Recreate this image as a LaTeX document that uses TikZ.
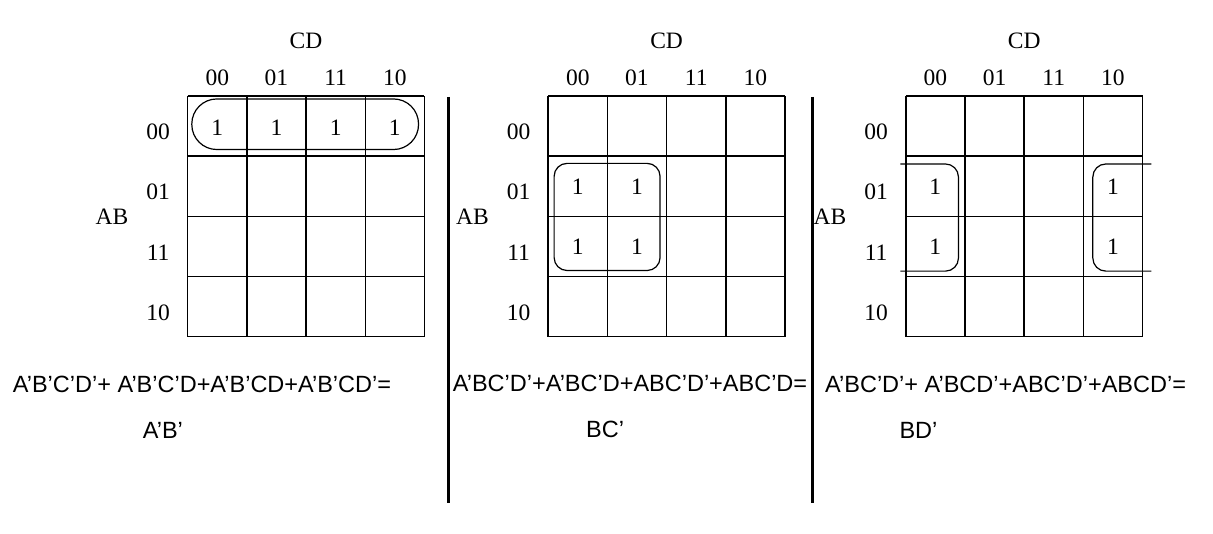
\documentclass[tikz,border=0pt]{standalone}
\usepackage{fontspec}
\setmainfont{Liberation Serif}
\setsansfont{Liberation Sans}
\begin{document}
\begin{tikzpicture}[x=59.2pt,y=60.2pt,
  lbl/.style={inner sep=0pt,font=\fontsize{23.5}{27}\selectfont},
  eqn/.style={inner sep=0pt,anchor=base west,font=\sffamily\fontsize{23.5}{27}\selectfont},
  group/.style={line width=1.2pt},
  sep/.style={line width=2.4pt}]
  \useasboundingbox (0,0) rectangle (1213pt,533pt);
  \def\B{3.26}
  % the three maps
  \foreach \L/\m in {3.17/a,9.26/b,15.30/c}{
    \begin{scope}[shift={(\L,\B)}]
      \draw[line width=1.5pt,step=1] (0,0) grid (4,4);
      \node[lbl] (cd\m) at (2,4.91) {CD};
      \node[lbl] (ab\m) at (-1.28,2) {AB};
      \foreach \t [count=\i from 0] in {00,01,11,10}{
        \node[lbl] (col\m\i) at (\i+0.5,4.3) {\t};
        \node[lbl] (row\m\i) at (-0.5,3.4-\i) {\t};
      }
    \end{scope}
  }
  % A'B'
  \begin{scope}[shift={(3.17,\B)}]
    \foreach \i in {0,...,3} \node[lbl] (onea\i) at (\i+0.5,3.47) {1};
    \draw[group,rounded corners=25pt] (0.07,3.11) rectangle (3.9,3.95);
  \end{scope}
  % BC'
  \begin{scope}[shift={(9.26,\B)}]
    \foreach \x/\y [count=\i] in {0.5/2.5,1.5/2.5,0.5/1.5,1.5/1.5}
      \node[lbl] (oneb\i) at (\x,\y) {1};
    \draw[group,rounded corners=13pt] (0.1,1.1) rectangle (1.89,2.88);
  \end{scope}
  % BD'
  \begin{scope}[shift={(15.30,\B)}]
    \foreach \x/\y [count=\i] in {0.5/2.5,0.5/1.5,3.5/2.5,3.5/1.5}
      \node[lbl] (onec\i) at (\x,\y) {1};
    \draw[group,rounded corners=13pt] (-0.09,2.87) -- (0.89,2.87) -- (0.89,1.09) -- (-0.09,1.09);
    \draw[group,rounded corners=13pt] (4.15,2.87) -- (3.16,2.87) -- (3.16,1.09) -- (4.15,1.09);
  \end{scope}
  % dividers
  \draw[sep] (448.5pt,436pt) -- (448.5pt,30pt);
  \draw[sep] (812.3pt,436pt) -- (812.3pt,30pt);
  % expressions
  \node[eqn] (eqa) at (12.7pt,140.7pt) {A’B’C’D’+ A’B’C’D+A’B’CD+A’B’CD’=};
  \node[eqn] (resa) at (142.7pt,94pt) {A’B’};
  \node[eqn] (eqb) at (452.7pt,141.3pt) {A’BC’D’+A’BC’D+ABC’D’+ABC’D=};
  \node[eqn] (resb) at (586pt,95.3pt) {BC’};
  \node[eqn] (eqc) at (825pt,140.7pt) {A’BC’D’+ A’BCD’+ABC’D’+ABCD’=};
  \node[eqn] (resc) at (899.3pt,94.7pt) {BD’};
\end{tikzpicture}
\end{document}
